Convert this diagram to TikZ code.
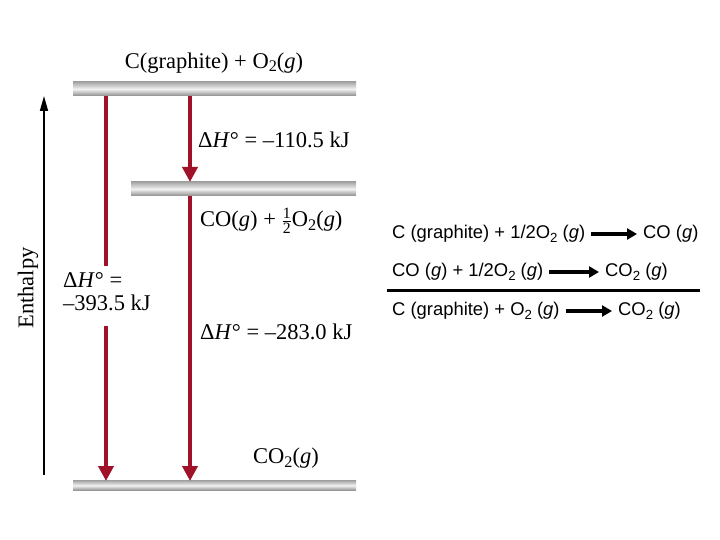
\documentclass[tikz,border=0pt]{standalone}
\usepackage{fontspec}
\usepackage{amsmath}
\usepackage{graphicx}
\setmainfont{Liberation Serif}
\newfontfamily\arialf{Liberation Sans}
\usetikzlibrary{arrows.meta}
\newcommand\mysub[1]{\raisebox{-0.35ex}{\scalebox{0.72}{#1}}}
\definecolor{arrowred}{RGB}{160,18,42}
\tikzset{
  bar/.style={draw=none, inner sep=0pt, minimum height=14pt, top color=gray!70, bottom color=gray!90, middle color=gray!10},
  redarrow/.style={draw=arrowred, line width=4pt, -{Triangle[length=15pt,width=15pt]}},
  redline/.style={draw=arrowred, line width=4pt},
  lbl/.style={font=\fontsize{22.5}{26}\selectfont, inner sep=0pt},
  rlbl/.style={font=\arialf\fontsize{18.4}{21}\selectfont, inner sep=0pt, anchor=west},
  rarrow/.style={draw=black, line width=3.5pt, -{Triangle[length=10pt,width=11pt]}}
}
\begin{document}
\begin{tikzpicture}[x=1pt,y=-1pt]
\useasboundingbox (0,0) rectangle (720,540);
% levels
\node[bar, minimum width=283pt] (top) at (214.5,89) {};
\node[bar, minimum width=225pt] (mid) at (243.5,189) {};
\node[bar, minimum width=283pt, minimum height=10pt] (bot) at (214.5,485.5) {};
% labels
\node[lbl] (l1) at (214,63) {C(graphite) + O\mysub{2}(\textit{g})};
\node[lbl, anchor=west] (l2) at (198,140) {Δ\textit{H}\textdegree\ = –110.5 kJ};
\node[lbl, anchor=west] (l3) at (200,221) {CO(\textit{g}) + $\frac{\text{1}}{\text{2}}$O\mysub{2}(\textit{g})};
\node[lbl, anchor=west] (l4) at (63,280) {Δ\textit{H}\textdegree\ =};
\node[lbl, anchor=west] (l5) at (63,303) {–393.5 kJ};
\node[lbl, anchor=west] (l6) at (200,332) {Δ\textit{H}\textdegree\ = –283.0 kJ};
\node[lbl] (l7) at (286,458) {CO\mysub{2}(\textit{g})};
% arrows
\coordinate (a1s) at (106,96);
\coordinate (a1m) at (106,266);
\coordinate (a1n) at (106,326);
\coordinate (a1e) at (106,481);
\draw[redline] (a1s) -- (a1m);
\draw[redarrow] (a1n) -- (a1e);
\coordinate (a2s) at (190,96);
\coordinate (a2e) at (190,182);
\draw[redarrow] (a2s) -- (a2e);
\coordinate (a3s) at (190,196);
\coordinate (a3e) at (190,481);
\draw[redarrow] (a3s) -- (a3e);
% enthalpy axis
\coordinate (ax0) at (44,475);
\coordinate (ax1) at (44,96);
\draw[line width=1.6pt, -{Triangle[length=15pt,width=8pt]}] (ax0) -- (ax1);
\node[lbl, rotate=90] (enth) at (28,288) {Enthalpy};
% right equations
\node[rlbl] (r1a) at (392,234) {C (graphite) + 1/2O\mysub{2} (\textit{g})};
\node[rlbl] (r1b) at (643,234) {CO (\textit{g})};
\draw[rarrow] ([xshift=6pt]r1a.east) -- ([xshift=-6pt]r1b.west);
\node[rlbl] (r2a) at (392,272) {CO (\textit{g}) + 1/2O\mysub{2} (\textit{g})};
\node[rlbl] (r2b) at (605,272) {CO\mysub{2} (\textit{g})};
\draw[rarrow] ([xshift=6pt]r2a.east) -- ([xshift=-6pt]r2b.west);
\coordinate (ruleA) at (387,290);
\coordinate (ruleB) at (700,290);
\draw[line width=3pt] (ruleA) -- (ruleB);
\node[rlbl] (r3a) at (392,311) {C (graphite) + O\mysub{2} (\textit{g})};
\node[rlbl] (r3b) at (618,311) {CO\mysub{2} (\textit{g})};
\draw[rarrow] ([xshift=6pt]r3a.east) -- ([xshift=-6pt]r3b.west);
\end{tikzpicture}
\end{document}
